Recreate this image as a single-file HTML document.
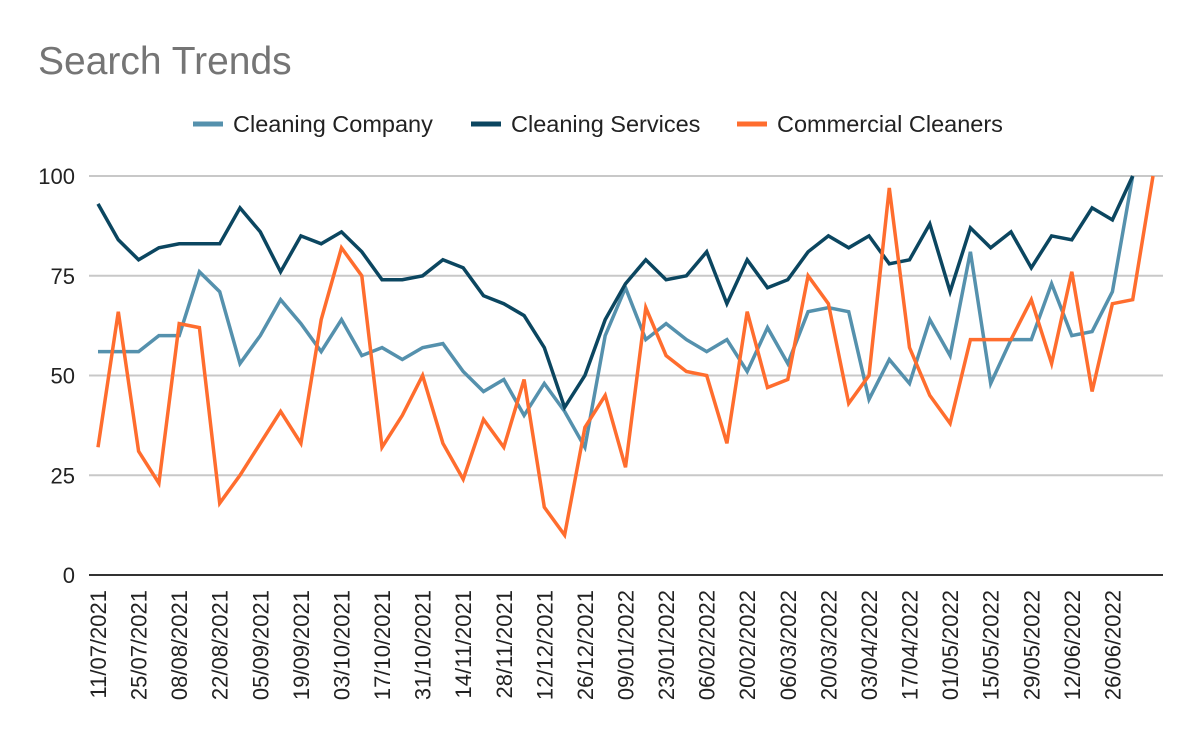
<!DOCTYPE html>
<html><head><meta charset="utf-8"><style>
body{margin:0;background:#fff;}
svg{display:block;font-family:"Liberation Sans",Arial,sans-serif;}
</style></head><body>
<svg id="chart" width="1200" height="742">
<text x="38" y="74" font-size="39" fill="#757575">Search Trends</text>
<g>
<g><line x1="193" y1="124" x2="223" y2="124" stroke="#5591ad" stroke-width="5"/><text x="233" y="132" font-size="23.5" fill="#222">Cleaning Company</text></g>
<g><line x1="471" y1="124" x2="501" y2="124" stroke="#0b4660" stroke-width="5"/><text x="511" y="132" font-size="23.5" fill="#222">Cleaning Services</text></g>
<g><line x1="737" y1="124" x2="767" y2="124" stroke="#ff6d2e" stroke-width="5"/><text x="777" y="132" font-size="23.5" fill="#222">Commercial Cleaners</text></g>
</g>
<g id="grid"></g>
<g id="yticks"></g>
<g id="xticks"></g>
<g id="series"></g>
</svg>
<script>
const startDate = [2021, 7, 11];
const yTicks = [0, 25, 50, 75, 100];
const cleaningCompany = [56,56,56,60,60,76,71,53,60,69,63,56,64,55,57,54,57,58,51,46,49,40,48,41,32,60,72,59,63,59,56,59,51,62,53,66,67,66,44,54,48,64,55,81,48,59,59,73,60,61,71,100,null];
const cleaningServices = [93,84,79,82,83,83,83,92,86,76,85,83,86,81,74,74,75,79,77,70,68,65,57,42,50,64,73,79,74,75,81,68,79,72,74,81,85,82,85,78,79,88,71,87,82,86,77,85,84,92,89,100,null];
const commercialCleaners = [32,66,31,23,63,62,18,25,33,41,33,64,82,75,32,40,50,33,24,39,32,49,17,10,37,45,27,67,55,51,50,33,66,47,49,75,68,43,50,97,57,45,38,59,59,59,69,53,76,46,68,69,100];
const lastLabelIndex = 50;

const NS = "http://www.w3.org/2000/svg";
const n = commercialCleaners.length;
const categories = [];
for (let i = 0; i < n; i++) {
  const d = new Date(Date.UTC(startDate[0], startDate[1]-1, startDate[2] + 7*i));
  categories.push(String(d.getUTCDate()).padStart(2,'0') + '/' + String(d.getUTCMonth()+1).padStart(2,'0') + '/' + d.getUTCFullYear());
}
const x0 = 98, x1 = 1153, yTop = 176, yBot = 575;
const xs = i => x0 + (x1 - x0) * i / (n - 1);
const ys = v => yBot - (yBot - yTop) * v / 100;
function mk(tag, attrs, parent) {
  const e = document.createElementNS(NS, tag);
  for (const k in attrs) e.setAttribute(k, attrs[k]);
  parent.appendChild(e);
  return e;
}
const grid = document.getElementById('grid'), yt = document.getElementById('yticks'), xt = document.getElementById('xticks'), ser = document.getElementById('series');
yTicks.forEach(v => {
  const l = mk('line', {x1: 89, x2: 1163, y1: ys(v), y2: ys(v), stroke: v === 0 ? '#333' : '#c8c8c8', 'stroke-width': 2}, grid);
  
  
  const t = mk('text', {x: 75, y: ys(v) + 8, 'text-anchor': 'end', 'font-size': 22, fill: '#222'}, yt);
  t.textContent = v;
  
  
});
categories.forEach((c, i) => {
  if (i % 2 !== 0 || i > lastLabelIndex) return;
  const x = xs(i) + 8, y = 590;
  const t = mk('text', {x: x, y: y, 'text-anchor': 'end', 'font-size': 22, fill: '#222', transform: `rotate(-90 ${x} ${y})`}, xt);
  t.textContent = c;
  
  
});
[[cleaningCompany, '#5591ad', 'line-cleaning-company'], [cleaningServices, '#0b4660', 'line-cleaning-services'], [commercialCleaners, '#ff6d2e', 'line-commercial-cleaners']].forEach(([data, col, name]) => {
  let d = '', started = false;
  data.forEach((v, i) => {
    if (v === null) return;
    d += (started ? 'L' : 'M') + xs(i).toFixed(1) + ',' + ys(v).toFixed(1);
    started = true;
  });
  const p = mk('path', {d: d, fill: 'none', stroke: col, 'stroke-width': 3.5, 'stroke-linejoin': 'miter'}, ser);
  
  
});
</script>
</body></html>
